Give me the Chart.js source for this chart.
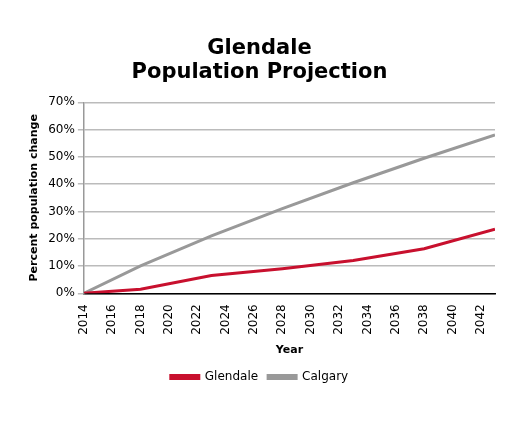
<!DOCTYPE html>
<html><head><meta charset="utf-8">
<script src="https://cdn.jsdelivr.net/npm/chart.js@4"></script>
<style>html,body{margin:0;padding:0;background:#fff}#w{width:509px;height:425px}</style>
</head><body><div id="w"><canvas id="c"></canvas></div>
<script>
const years = [2014, 2018, 2023, 2028, 2033, 2038, 2043];
const glendale = [0, 1.5, 6.5, 9, 12, 16.3, 23.5];
const calgary = [0, 10, 21, 31, 40.5, 49.5, 58];
const pts = a => years.map((y, i) => ({x: y, y: a[i]}));
Chart.defaults.font.family = "'DejaVu Sans', sans-serif";
Chart.defaults.color = '#000';
new Chart(document.getElementById('c'), {
  type: 'line',
  data: { datasets: [
    {label: 'Glendale', data: pts(glendale), borderColor: '#c8102e', backgroundColor: '#c8102e', borderWidth: 3, pointRadius: 0, tension: 0},
    {label: 'Calgary', data: pts(calgary), borderColor: '#999999', backgroundColor: '#999999', borderWidth: 3, pointRadius: 0, tension: 0}
  ]},
  options: {
    responsive: true, maintainAspectRatio: false, animation: false,
    layout: {padding: {left: 24, right: 14, top: 36, bottom: 32}},
    plugins: {
      title: {display: true, text: ['Glendale', 'Population Projection'], font: {size: 21, weight: 'bold', lineHeight: 1.15}, padding: {bottom: 18}, color: '#000'},
      legend: {position: 'bottom', labels: {boxWidth: 28, boxHeight: 3, font: {size: 12}, padding: 10}},
      tooltip: {enabled: false}
    },
    scales: {
      x: {type: 'linear', min: 2014, max: 2043,
        ticks: {stepSize: 2, includeBounds: false, maxRotation: 90, minRotation: 90, font: {size: 12}, callback: v => String(v)},
        grid: {display: false}, border: {color: '#000', width: 1.5},
        title: {display: true, text: 'Year', font: {size: 11, weight: 'bold'}, padding: {top: 6}}},
      y: {min: 0, max: 70,
        ticks: {stepSize: 10, callback: v => v + '%', font: {size: 12}},
        grid: {color: '#bbbbbb', lineWidth: 1.5, drawTicks: true, tickLength: 6}, border: {color: '#999', width: 1.5},
        title: {display: true, text: 'Percent population change', font: {size: 11, weight: 'bold'}, padding: {bottom: 4}}}
    }
  }
});
</script></body></html>
